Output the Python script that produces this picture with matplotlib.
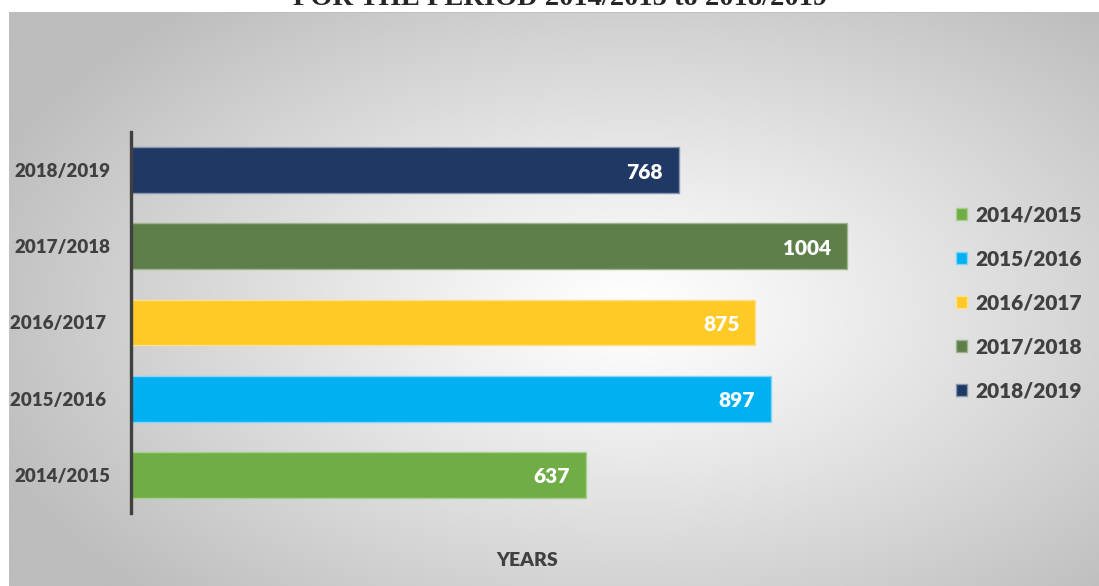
import matplotlib.pyplot as plt
from matplotlib.patches import Patch
import numpy as np

plt.rcParams['font.family'] = ['Lato', 'DejaVu Sans']
WEIGHT = 'heavy'

years = ['2014/2015', '2015/2016', '2016/2017', '2017/2018', '2018/2019']
tick_labels = ['2014/2015', '2015/2016 ', '2016/2017 ', '2017/2018', '2018/2019']
students = [637, 897, 875, 1004, 768]
colors = ['#70AD47', '#00B0F0', '#FFC926', '#5E7F49', '#1F3864']
edges = ['#A9D18E', '#7FD6F7', '#FFE08A', '#9DB58C', '#8497B0']

W, H = 1099, 586
fig = plt.figure(figsize=(W / 100, H / 100), dpi=100)
fig.patch.set_facecolor('white')

# grey panel with a soft radial highlight
bg = fig.add_axes([9 / W, 0, 1 - 9 / W, (H - 12) / H])
gx, gy = np.meshgrid(np.linspace(0, 1, 400), np.linspace(0, 1, 220))
r = np.sqrt(((gx - 0.57) / 0.5) ** 2 + ((gy - 0.52) / 0.55) ** 2)
shade = np.clip(1 - 0.2 * r ** 1.1, 0.74, 1)
bg.imshow(shade, cmap='gray', vmin=0, vmax=1, aspect='auto',
          extent=[0, 1, 0, 1], interpolation='bicubic')
bg.plot([0, 1], [1, 1], color='#bdbdbd', lw=1.2)
bg.set_xlim(0, 1)
bg.set_ylim(0, 1)
bg.axis('off')

# chart title, most of it sits above the top edge
fig.text(560 / W, 1 - 5 / H, 'FOR THE PERIOD 2014/2015 to 2018/2019',
         family='Liberation Serif', fontweight='bold', fontsize=20.5,
         color='#262626', ha='center', va='baseline')

ax = fig.add_axes([131 / W, 1 - 513 / H, 785 / W, 381 / H])
ax.patch.set_alpha(0)
y = np.arange(len(years))
for i in range(len(years)):
    ax.barh(y[i], students[i], height=0.6, color=colors[i],
            edgecolor=edges[i], linewidth=1.0, label=years[i])
    ax.annotate(str(students[i]), (students[i], y[i]), xytext=(-16, -2),
                textcoords='offset pixels',
                ha='right', va='center', color='white', fontweight=WEIGHT,
                fontsize=15)

ax.set_xlim(0, 1100)
ax.set_ylim(-0.5, 4.5)
ax.set_yticks(y)
ax.set_yticklabels(tick_labels, fontsize=13.5, fontweight=WEIGHT, color='#404040')
ax.tick_params(axis='y', length=0, pad=15)
ax.set_xticks([])
for s in ['top', 'right', 'bottom']:
    ax.spines[s].set_visible(False)
ax.spines['left'].set_color('#404040')
ax.spines['left'].set_linewidth(2.4)

handles = [Patch(facecolor=colors[i], edgecolor=edges[i], label=years[i])
           for i in range(len(years))]
leg = fig.legend(handles=handles, loc='center left',
                 bbox_to_anchor=(937 / W, 1 - 303 / H), frameon=False,
                 handlelength=0.55, handleheight=0.55,
                 handletextpad=0.4, labelspacing=1.2,
                 prop={'weight': WEIGHT, 'size': 15})
for t in leg.get_texts():
    t.set_color('#404040')

fig.text(527 / W, 1 - 560 / H, 'YEARS', fontsize=14, fontweight=WEIGHT,
         color='#404040', ha='center', va='center')

fig.savefig('out.png', dpi=100)
